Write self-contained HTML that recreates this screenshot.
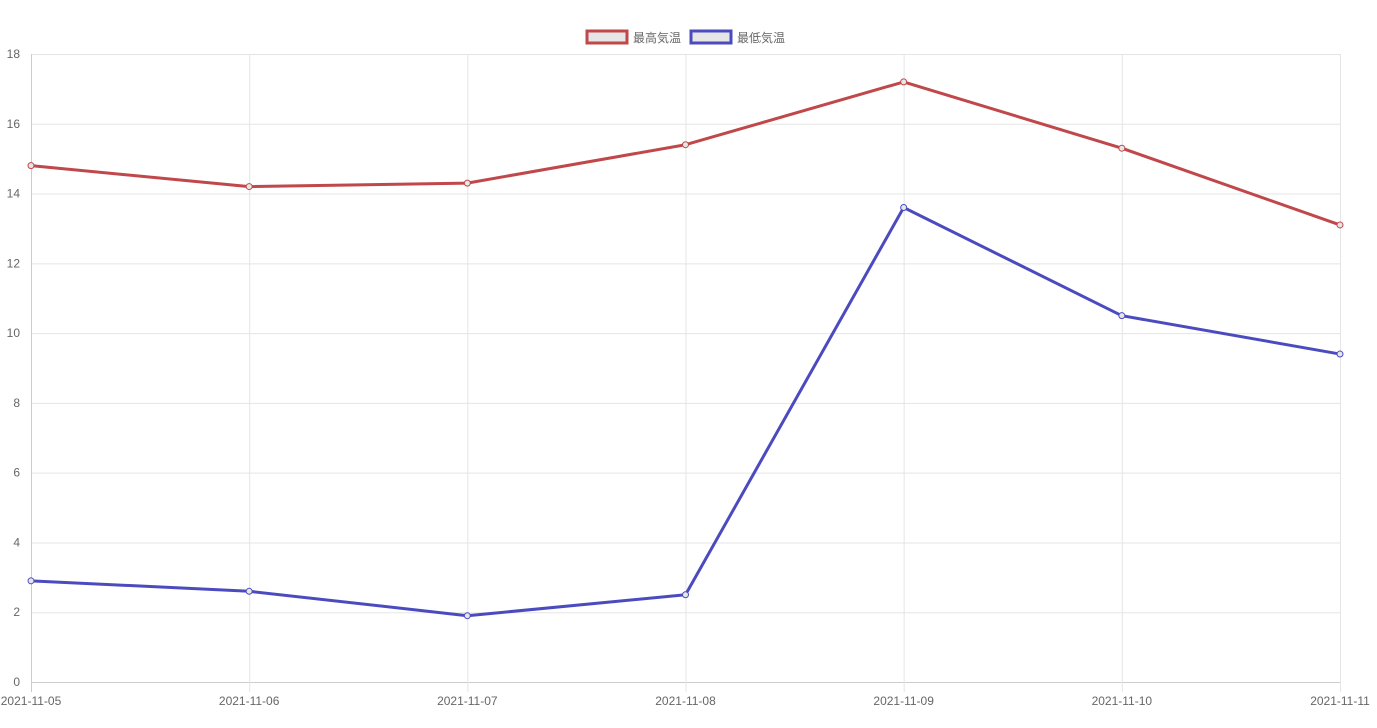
<!DOCTYPE html>
<html><head><meta charset="utf-8"><style>
html,body{margin:0;padding:0;background:#fff;}
svg{display:block;font-family:"Liberation Sans","Noto Sans CJK JP",sans-serif;}
</style></head><body>
<svg id="chart" width="1377" height="728">
<g id="grid"></g>
<g id="axes"></g>
<g id="series"></g>
<g>
 <g>
  <rect x="587" y="31" width="40" height="12" fill="#e6e6e6" stroke="#c0474a" stroke-width="3"/>
  <text x="633" y="42" font-size="12" fill="#666">最高気温</text>
 </g>
 <g>
  <rect x="691" y="31" width="40" height="12" fill="#e6e6e6" stroke="#4b4bbf" stroke-width="3"/>
  <text x="737" y="42" font-size="12" fill="#666">最低気温</text>
 </g>
</g>
</svg>
<script>
const categories = ["2021-11-05","2021-11-06","2021-11-07","2021-11-08","2021-11-09","2021-11-10","2021-11-11"];
const maxTemps = [14.8,14.2,14.3,15.4,17.2,15.3,13.1];
const minTemps = [2.9,2.6,1.9,2.5,13.6,10.5,9.4];
const yTicks = [0,2,4,6,8,10,12,14,16,18];

const NS="http://www.w3.org/2000/svg";
const x0=31,x1=1340,y0=682,y1=54,yMax=18;
function xs(i){return x0+(x1-x0)*i/(categories.length-1);}
function ys(v){return y0-(y0-y1)*v/yMax;}
function mk(tag,attrs,parent){const e=document.createElementNS(NS,tag);for(const k in attrs)e.setAttribute(k,attrs[k]);parent.appendChild(e);return e;}
const grid=document.getElementById('grid'),axes=document.getElementById('axes'),series=document.getElementById('series');
yTicks.forEach(t=>{
 const y=ys(t)+0.5;
 const l=mk('line',{x1:x0,x2:x1,y1:y,y2:y,stroke:t===0?'#ccc':'#e5e5e5','stroke-width':1},grid);
 
 
 const tx=mk('text',{x:20,y:ys(t)+4,'font-size':12,fill:'#666','text-anchor':'end'},axes);
 tx.textContent=t;
 
 
});
categories.forEach((c,i)=>{
 const x=xs(i)+0.5;
 const l=mk('line',{x1:x,x2:x,y1:y1,y2:y0+10,stroke:i===0?'#ccc':'#e5e5e5','stroke-width':1},grid);
 
 
 const tx=mk('text',{x:xs(i),y:705,'font-size':12,fill:'#666','text-anchor':'middle'},axes);
 tx.textContent=c;
 
 
});
function draw(vals,color,name){
 const p=mk('polyline',{points:vals.map((v,i)=>xs(i)+','+ys(v)).join(' '),fill:'none',stroke:color,'stroke-width':3,'stroke-linejoin':'round'},series);
 
 
 vals.forEach((v,i)=>{
  const c=mk('circle',{cx:xs(i),cy:ys(v),r:3,fill:'#e6e6e6',stroke:color,'stroke-width':1},series);
  
  
 });
}
draw(maxTemps,'#c0474a','max-temp');
draw(minTemps,'#4b4bbf','min-temp');
</script>
</body></html>
